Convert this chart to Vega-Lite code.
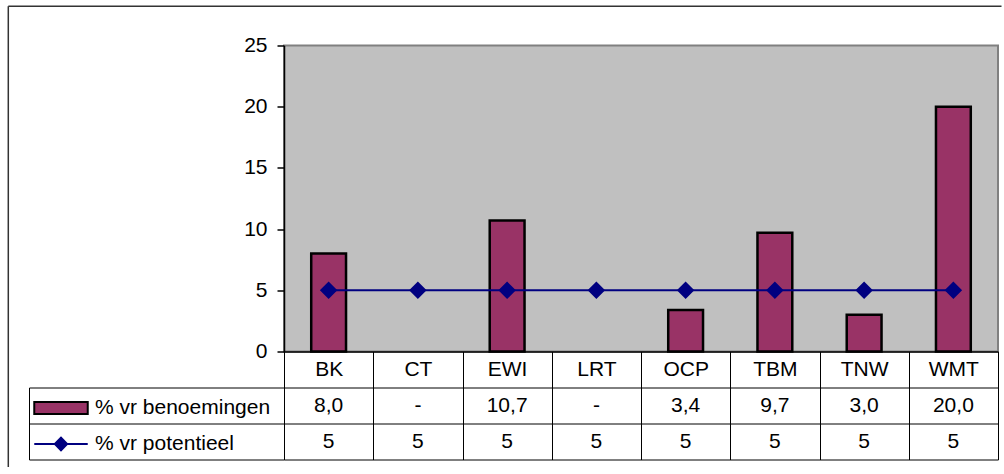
{
  "$schema": "https://vega.github.io/schema/vega-lite/v6.json",
  "background": "white",
  "padding": {"left": 6, "top": 4.5, "right": 0, "bottom": 0},
  "config": {
    "font": "Liberation Sans",
    "view": {"stroke": null},
    "axis": {"labelFont": "Liberation Sans", "labelFontSize": 21, "labelColor": "black", "domainColor": "black", "tickColor": "black"},
    "legend": {"title": null, "orient": "none", "padding": 0, "labelFont": "Liberation Sans", "labelFontSize": 21, "labelColor": "black", "labelLimit": 400, "labelOffset": 6, "symbolSize": 2860, "symbolStrokeWidth": 2}
  },
  "datasets": {
    "depts": [
      {"cat": "BK", "benoemingen": 8.0, "potentieel": 5},
      {"cat": "CT", "benoemingen": 0, "potentieel": 5},
      {"cat": "EWI", "benoemingen": 10.7, "potentieel": 5},
      {"cat": "LRT", "benoemingen": 0, "potentieel": 5},
      {"cat": "OCP", "benoemingen": 3.4, "potentieel": 5},
      {"cat": "TBM", "benoemingen": 9.7, "potentieel": 5},
      {"cat": "TNW", "benoemingen": 3.0, "potentieel": 5},
      {"cat": "WMT", "benoemingen": 20.0, "potentieel": 5}
    ]
  },
  "bounds": "flush",
  "spacing": 36,
  "resolve": {"scale": {"x": "independent", "y": "independent"}},
  "vconcat": [
    {
      "width": 714,
      "height": 306,
      "data": {"name": "depts"},
      "view": {"fill": "#C0C0C0", "stroke": "#808080", "strokeWidth": 2},
      "resolve": {"scale": {"x": "independent", "y": "independent"}, "axis": {"x": "independent", "y": "independent"}},
      "layer": [
        {
          "encoding": {
            "x": {
              "field": "cat", "type": "nominal",
              "scale": {"domain": ["BK", "CT", "EWI", "LRT", "OCP", "TBM", "TNW", "WMT"], "paddingInner": 0, "paddingOuter": 0},
              "axis": {"title": null, "labelAngle": 0, "tickBand": "extent", "tickSize": 36, "labelPadding": -18, "labelBaseline": "middle", "domainWidth": 1.5, "tickWidth": 1}
            }
          },
          "layer": [
            {
              "transform": [{"filter": "datum.benoemingen > 0"}],
              "mark": {"type": "bar", "stroke": "black", "strokeWidth": 2.5, "width": {"band": 0.39}},
              "encoding": {
                "y": {
                  "field": "benoemingen", "type": "quantitative",
                  "scale": {"domain": [0, 25], "nice": false},
                  "axis": {"title": null, "values": [0, 5, 10, 15, 20, 25], "grid": false, "tickSize": 7, "labelPadding": 10, "domainWidth": 1.5, "tickWidth": 1.5}
                },
                "fill": {
                  "datum": "% vr benoemingen",
                  "scale": {"range": ["#993366"]},
                  "legend": {
                    "legendX": -251,
                    "legendY": 334.5,
                    "symbolType": "M-1,-0.22H1V0.22H-1Z",
                    "symbolStrokeColor": "black",
                    "symbolFillColor": "#993366"
                  }
                }
              }
            },
            {
              "mark": {"type": "line", "strokeWidth": 2, "point": {"shape": "diamond", "size": 215, "filled": true, "fill": "#000080", "opacity": 1}},
              "encoding": {
                "y": {"field": "potentieel", "type": "quantitative"},
                "stroke": {
                  "datum": "% vr potentieel",
                  "scale": {"range": ["#000080"]},
                  "legend": {
                    "legendX": -251,
                    "legendY": 370.5,
                    "symbolType": "M-1,0H1M-0.23,0L0,-0.24L0.23,0L0,0.24Z",
                    "symbolFillColor": "#000080",
                    "symbolStrokeColor": "#000080"
                  }
                }
              }
            }
          ]
        },
        {
          "mark": {"type": "point", "opacity": 0, "size": 0},
          "encoding": {
            "x": {
              "field": "cat", "type": "nominal",
              "scale": {"type": "point", "range": [-276.2, 717]},
              "axis": {"orient": "top", "offset": 39.7, "title": null, "labels": false, "ticks": false, "grid": false, "domainColor": "#333333", "domainWidth": 1.5}
            },
            "y": {
              "field": "potentieel", "type": "quantitative",
              "scale": {"range": [421, -39.7]},
              "axis": {"orient": "left", "offset": 276.2, "title": null, "labels": false, "ticks": false, "grid": false, "domainColor": "#333333", "domainWidth": 1.5}
            }
          }
        }
      ]
    },
    {
      "width": 714,
      "height": 72,
      "data": {"name": "depts"},
      "transform": [
        {"fold": ["benoemingen", "potentieel"], "as": ["key", "value"]},
        {"calculate": "datum.key === 'benoemingen' ? (datum.value === 0 ? '-' : replace(format(datum.value, '.1f'), '.', ',')) : format(datum.value, 'd')", "as": "label"}
      ],
      "mark": {"type": "text", "font": "Liberation Sans", "fontSize": 21, "color": "black"},
      "encoding": {
        "x": {
          "field": "cat", "type": "nominal", "sort": null,
          "scale": {"type": "band", "paddingInner": 0, "paddingOuter": 0},
          "axis": {"title": null, "labels": false, "ticks": false, "domain": false, "grid": true, "tickBand": "extent", "gridColor": "black", "gridOpacity": 1, "gridWidth": 1}
        },
        "y": {
          "field": "key", "type": "nominal",
          "scale": {"type": "band", "domain": ["benoemingen", "potentieel"], "paddingInner": 0, "paddingOuter": 0},
          "axis": {"title": null, "labels": false, "offset": 255, "domain": true, "domainColor": "black", "domainWidth": 1, "ticks": true, "tickSize": -255, "tickColor": "black", "tickWidth": 1, "tickBand": "extent", "grid": true, "gridColor": "black", "gridOpacity": 1, "gridWidth": 1}
        },
        "text": {"field": "label"}
      }
    }
  ]
}
